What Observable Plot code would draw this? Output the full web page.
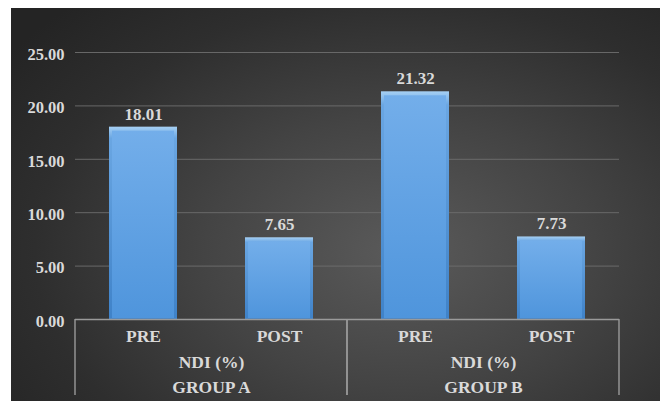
<!DOCTYPE html>
<html>
<head>
<meta charset="utf-8">
<script src="https://cdn.jsdelivr.net/npm/d3@7"></script>
<script src="https://cdn.jsdelivr.net/npm/@observablehq/plot@0.6"></script>
<style>
  html, body { margin: 0; padding: 0; background: #ffffff; }
  #panel {
    position: absolute; left: 11px; top: 8px; width: 649px; height: 393px;
    background: radial-gradient(ellipse 75% 85% at 60% 62%, #5a5a5a 0%, #444444 40%, #2e2e2e 75%, #242424 100%);
  }
</style>
</head>
<body>
<div id="panel"></div>
<script>
// NDI (%) before and after treatment, per group
const groups = ["GROUP A", "GROUP B"];
const phases = ["PRE", "POST"];
const measure = "NDI (%)";
const groupAValues = [18.01, 7.65];
const groupBValues = [21.32, 7.73];
const yTicks = [0, 5, 10, 15, 20, 25];

const rows = [groupAValues, groupBValues].flatMap((vals, gi) =>
  vals.map((v, i) => ({ group: groups[gi], phase: phases[i], value: v }))
);

const font = "Liberation Serif";
const ink = "#d9d9d9";

// Category box: vertical separators under the baseline for each group
const boxLines = (index, scales, values, dims) => {
  const x0 = dims.marginLeft;
  const x1 = dims.width - dims.marginRight;
  const yb = scales.y(0);
  const ye = dims.height - 6;
  const g = d3.create("svg:g").attr("stroke", "#9a9a9a").attr("stroke-width", 1.4);
  for (const xv of [x0, x1]) {
    g.append("line").attr("x1", xv).attr("x2", xv).attr("y1", yb).attr("y2", ye);
  }
  return g.node();
};

const textStyle = { fontFamily: font, fontWeight: "bold", fill: ink, fontSize: 16.5 };
const categoryStyle = { ...textStyle, fontSize: 17.5, frameAnchor: "bottom", lineAnchor: "middle" };

const chart = Plot.plot({
  width: 649,
  height: 393,
  marginLeft: 63,
  marginRight: 41,
  marginTop: 44,
  marginBottom: 82,
  style: { background: "transparent", fontFamily: font, color: ink, overflow: "visible" },
  fx: { domain: groups, padding: 0, axis: null, label: null },
  x: { domain: phases, paddingInner: 0.5, paddingOuter: 0.25, axis: null, label: null },
  y: { domain: [0, 25], axis: null, label: null },
  marks: [
    Plot.gridY(yTicks.filter((t) => t > 0), { stroke: "#6e6e6e", strokeOpacity: 0.9, strokeWidth: 1 }),
    Plot.axisY({
      ticks: yTicks, tickFormat: (d) => d.toFixed(2), tickSize: 0, tickPadding: 11,
      label: null, dy: 2, ...textStyle
    }),
    // bevel edge, then face of each bar
    Plot.barY(rows, { fx: "group", x: "phase", y: "value", fill: "url(#barEdge)" }),
    Plot.barY(rows, {
      fx: "group", x: "phase", y: "value", fill: "url(#barFace)",
      insetLeft: 3, insetRight: 3, insetTop: 4, insetBottom: 1
    }),
    Plot.ruleY([0], { stroke: "#9a9a9a", strokeWidth: 1.4 }),
    boxLines,
    Plot.text(rows, {
      fx: "group", x: "phase", y: "value", text: (d) => d.value.toFixed(2),
      dy: -13, ...textStyle, fontSize: 17
    }),
    Plot.text(rows, { fx: "group", x: "phase", text: "phase", dy: 17, ...categoryStyle }),
    Plot.text(groups, { fx: (d) => d, text: () => measure, dy: 43, ...categoryStyle }),
    Plot.text(groups, { fx: (d) => d, text: (d) => d, dy: 68, ...categoryStyle })
  ]
});

// Gradients for the bevelled bars
const defs = d3.select(chart).insert("defs", ":first-child");
const edge = defs.append("linearGradient").attr("id", "barEdge")
  .attr("x1", 0).attr("y1", 0).attr("x2", 0).attr("y2", 1);
edge.append("stop").attr("offset", 0).attr("stop-color", "#a6d0f4");
edge.append("stop").attr("offset", 0.06).attr("stop-color", "#6aa6e2");
edge.append("stop").attr("offset", 1).attr("stop-color", "#3f82c8");
const face = defs.append("linearGradient").attr("id", "barFace")
  .attr("x1", 0).attr("y1", 0).attr("x2", 0).attr("y2", 1);
face.append("stop").attr("offset", 0).attr("stop-color", "#73aeea");
face.append("stop").attr("offset", 1).attr("stop-color", "#4f95dc");

document.getElementById("panel").appendChild(chart);
</script>
</body>
</html>
